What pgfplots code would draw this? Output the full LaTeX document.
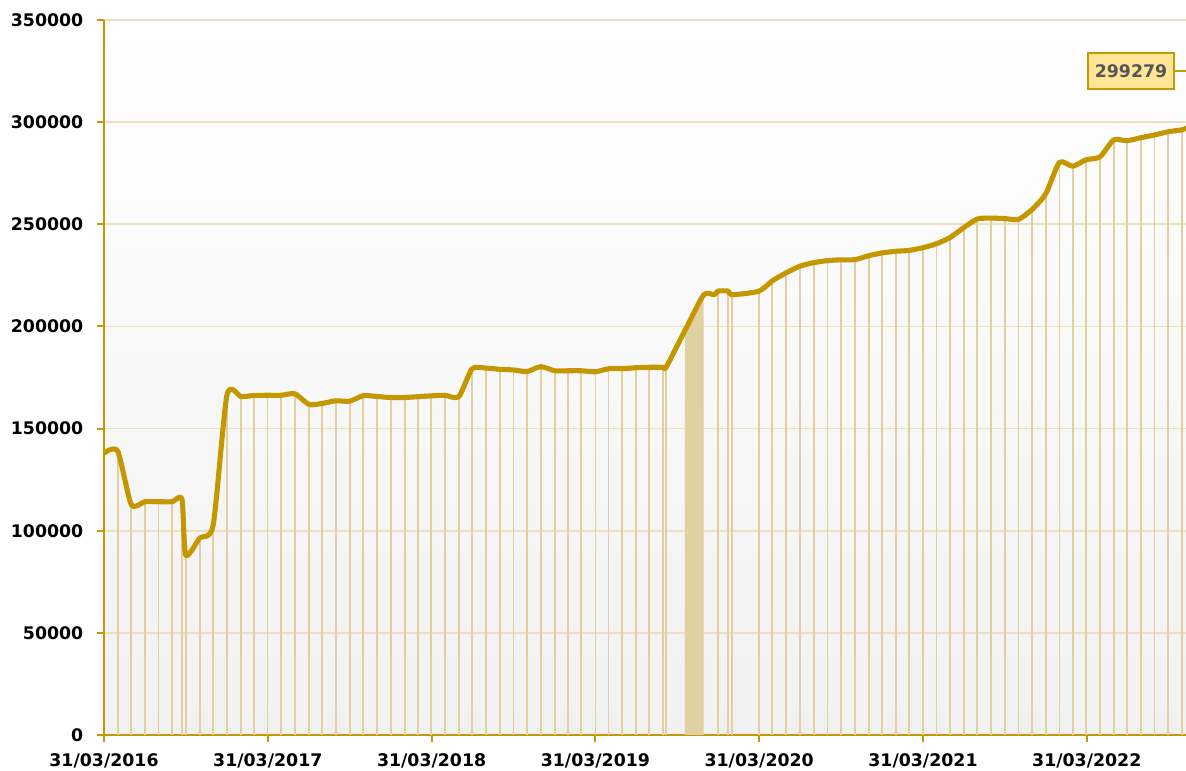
\documentclass[border=0pt]{standalone}
\usepackage{fontspec}
\setmainfont{DejaVu Sans}
\usepackage{pgfplots}
\pgfplotsset{compat=1.18}
\usepackage{pgfplotstable}
\definecolor{gold}{RGB}{198,152,6}
\definecolor{curvecol}{RGB}{196,150,0}
\definecolor{combcol}{RGB}{224,208,160}
\definecolor{bandcol}{RGB}{224,210,160}
\definecolor{gridcol}{RGB}{237,224,190}
\definecolor{boxfill}{RGB}{255,230,150}
\definecolor{boxtext}{RGB}{85,85,85}

\pgfplotstableread{
x y
0 138000
1 139000
2 112800
3 114200
4 114200
5 114200
5.71 115400
5.99 88000
7.01 96400
8.0 102800
9.01 166400
10.06 165600
10.99 166200
11.97 166300
12.97 166300
13.99 167000
15.02 161800
15.99 162300
17.0 163600
18.0 163400
19.0 166100
20.0 165700
21.0 165200
22.03 165200
22.98 165600
23.96 166000
24.98 166300
25.99 165600
26.96 179200
27.96 179600
29.0 179000
30.0 178700
30.99 177900
31.99 180300
33.02 178300
34.01 178300
34.95 178300
36.0 177800
36.97 179300
37.97 179300
38.97 179800
39.95 180000
40.97 180000
41.19 180100
42.56 198000
43.93 215400
44.7 215500
44.98 217300
45.74 217300
45.99 215500
47.96 217200
48.96 222300
49.99 226300
50.99 229500
51.99 231200
53.0 232200
53.99 232600
55.02 232700
56.02 234600
57.02 236000
58.04 236800
58.97 237200
59.98 238500
61.0 240500
61.98 243500
62.98 248300
63.98 252600
65.0 253000
66.0 252800
67.0 252400
68.0 257300
69.0 265000
70.0 280300
70.97 278400
71.96 281600
72.97 283000
73.97 291300
74.95 290900
75.97 292400
76.97 293700
77.97 295300
78.95 296200
79.27 297000
}\curvedata

\pgfplotstableread{
x y
1 139000
2 112800
3 114200
4 114200
5 114200
5.71 115400
5.99 88000
7.01 96400
8.0 102800
9.01 166400
10.06 165600
10.99 166200
11.97 166300
12.97 166300
13.99 167000
15.02 161800
15.99 162300
17.0 163600
18.0 163400
19.0 166100
20.0 165700
21.0 165200
22.03 165200
22.98 165600
23.96 166000
24.98 166300
25.99 165600
26.96 179200
27.96 179600
29.0 179000
30.0 178700
30.99 177900
31.99 180300
33.02 178300
34.01 178300
34.95 178300
36.0 177800
36.97 179300
37.97 179300
38.97 179800
39.95 180000
40.97 180000
41.19 180100
44.98 217300
45.74 217300
45.99 215500
47.96 217200
48.96 222300
49.99 226300
50.99 229500
51.99 231200
53.0 232200
53.99 232600
55.02 232700
56.02 234600
57.02 236000
58.04 236800
58.97 237200
59.98 238500
61.0 240500
61.98 243500
62.98 248300
63.98 252600
65.0 253000
66.0 252800
67.0 252400
68.0 257300
69.0 265000
70.0 280300
70.97 278400
71.96 281600
72.97 283000
73.97 291300
74.95 290900
75.97 292400
76.97 293700
77.97 295300
78.95 296200
}\combdata

\begin{document}
\begin{tikzpicture}
\begin{axis}[
  scale only axis, width=811.5pt, height=536.25pt,
  xmin=0, xmax=79.27, ymin=0, ymax=350000,
  axis x line=bottom, axis y line=left,
  axis line style={-, draw=gold, line width=1.5pt},
  xtick={0,12,24,36,48,60,72},
  xticklabels={31/03/2016,31/03/2017,31/03/2018,31/03/2019,31/03/2020,31/03/2021,31/03/2022},
  ytick={0,50000,100000,150000,200000,250000,300000,350000},
  yticklabels={0,50000,100000,150000,200000,250000,300000,350000},
  minor tick num=0,
  tick style={draw=gold, line width=1.5pt},
  major tick length=5pt,
  tick align=outside,
  ymajorgrids,
  grid style={draw=gridcol, line width=1.3pt},
  ticklabel style={font=\fontsize{13}{15}\selectfont\bfseries, text=black},
  xticklabel style={yshift=-5.5pt},
  yticklabel style={xshift=-7pt},
  axis background/.style={top color=white, bottom color=gray!11},
]
\addplot[ycomb, draw=combcol, line width=1.3pt, mark=none] table[x=x,y=y] {\combdata};
\addplot[fill=bandcol, draw=none] coordinates {(42.56,0) (42.56,198000) (43.93,215400) (43.93,0)} -- cycle;
\addplot[curvecol, line width=3.8pt, smooth, tension=0.4, line join=round, line cap=round, mark=none] table[x=x,y=y] {\curvedata};
\node[draw=gold, line width=1.2pt, fill=boxfill, text=boxtext, font=\fontsize{13}{15}\selectfont\bfseries, minimum width=64.5pt, minimum height=27pt, inner sep=0pt] (lbl) at (axis cs:75.24,325000) {299279};
\draw[gold, line width=1.2pt] (lbl.east) -- (axis cs:79.27,325000);
\end{axis}
\pgfresetboundingbox
\path[use as bounding box] (-78pt,-27pt) rectangle (811.5pt,551.25pt);
\end{tikzpicture}
\end{document}
